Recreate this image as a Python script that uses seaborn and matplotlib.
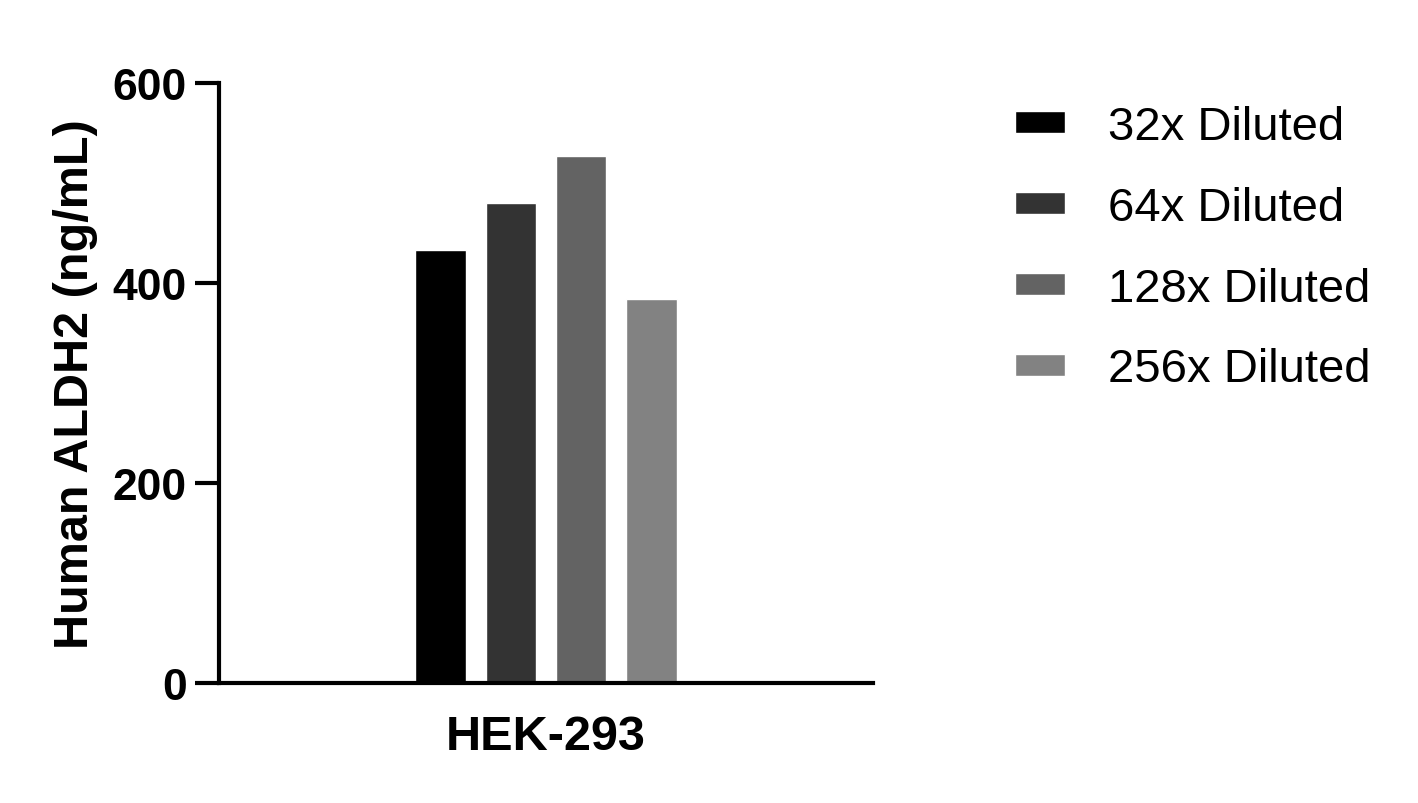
import numpy as np
import pandas as pd
import matplotlib
matplotlib.use('Agg')
import matplotlib.pyplot as plt
import seaborn as sns

# values
cell_lines = ['HEK-293']
dilutions = ['32x Diluted', '64x Diluted', '128x Diluted', '256x Diluted']
aldh2_ng_ml = [433, 480, 527, 384]
bar_colors = ['#000000', '#333333', '#636363', '#828282']
y_ticks = [0, 200, 400, 600]

df = pd.DataFrame({'cell': cell_lines * len(dilutions),
                   'dilution': dilutions,
                   'value': aldh2_ng_ml})

sns.set_theme(style='ticks')
plt.rcParams['font.family'] = ['Liberation Sans', 'DejaVu Sans']
plt.rcParams['text.color'] = 'black'
plt.rcParams['axes.labelcolor'] = 'black'
plt.rcParams['xtick.color'] = 'black'
plt.rcParams['ytick.color'] = 'black'

fig = plt.figure(figsize=(14.18, 8.04), dpi=100)
ax = fig.add_axes([219 / 1418, 1 - 684 / 804, 654 / 1418, 600 / 804])

sns.barplot(data=df, x='cell', y='value', hue='dilution', hue_order=dilutions,
            palette=bar_colors, errorbar=None, width=0.43, gap=0.28,
            saturation=1, ax=ax, legend=True)

ax.set_xlim(-0.5, 0.5)
ax.set_ylim(0, 600)
ax.set_yticks(y_ticks)
ax.set_yticklabels([str(t) for t in y_ticks], fontsize=32, fontweight='bold')
ax.set_xticks([0])
ax.set_xticklabels(cell_lines, fontsize=35, fontweight='bold')
ax.set_xlabel('')
ax.set_ylabel('Human ALDH2 (ng/mL)', fontsize=35, fontweight='bold', labelpad=11)

sns.despine(ax=ax)
for sp in ('left', 'bottom'):
    ax.spines[sp].set_linewidth(3)
    ax.spines[sp].set_color('black')
ax.tick_params(axis='y', length=17, width=3, pad=6, color='black')
ax.tick_params(axis='x', length=0, pad=22)

handles, labels = ax.get_legend_handles_labels()
ax.get_legend().remove()
fig.legend(handles, labels, loc='upper left',
           bbox_to_anchor=(1015 / 1418, 1 - 106 / 804),
           frameon=False, fontsize=34, borderpad=0, borderaxespad=0,
           handlelength=1.06, handleheight=0.34, handletextpad=0.91,
           labelspacing=0.78)

fig.savefig('out.png', dpi=100)
